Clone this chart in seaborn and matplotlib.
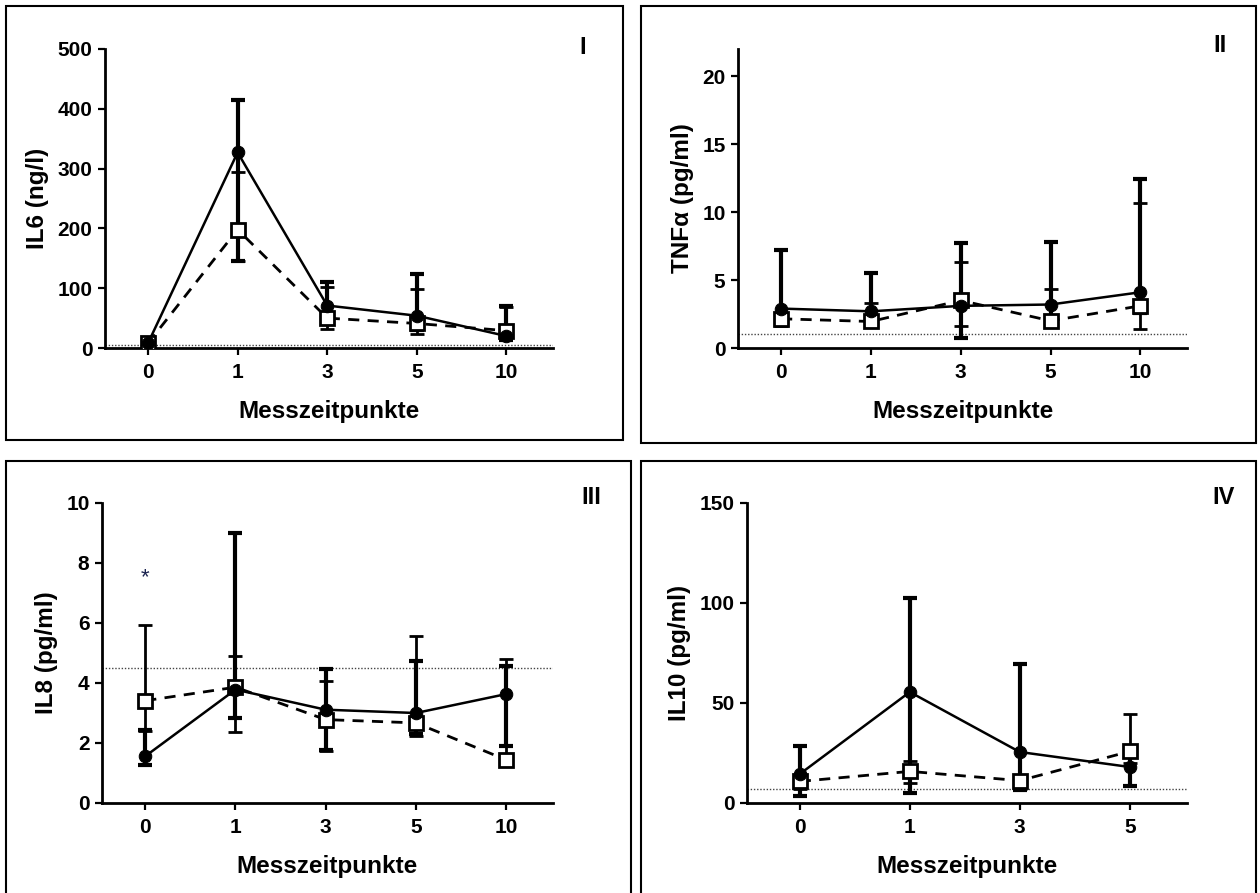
import numpy as np
import pandas as pd
import matplotlib
matplotlib.use("Agg")
import matplotlib.pyplot as plt
from matplotlib.patches import Rectangle
import seaborn as sns

sns.set_theme(style="white")
plt.rcParams['font.family'] = ['Liberation Sans', 'DejaVu Sans']
plt.rcParams['font.weight'] = 'bold'
plt.rcParams['text.color'] = 'black'
plt.rcParams['axes.labelcolor'] = 'black'
plt.rcParams['xtick.color'] = 'black'
plt.rcParams['ytick.color'] = 'black'
plt.rcParams['xtick.labelcolor'] = 'black'
plt.rcParams['ytick.labelcolor'] = 'black'

# ---------------- data ----------------
days5 = ["0", "1", "3", "5", "10"]
days4 = ["0", "1", "3", "5"]

# Panel I  IL6 (ng/l)
il6_solid = [8, 327, 71, 54, 20]
il6_solid_lo = [5, 146, 40, 30, 14]
il6_solid_hi = [12, 414, 110, 123, 71]
il6_dash = [8, 198, 50, 41, 29]
il6_dash_lo = [5, 146, 32, 24, 18]
il6_dash_hi = [10, 294, 102, 98, 68]
il6_lod = 5.5

# Panel II  TNFa (pg/ml)
tnf_solid = [2.9, 2.7, 3.1, 3.2, 4.1]
tnf_solid_lo = [1.7, 1.9, 0.7, 2.2, 2.6]
tnf_solid_hi = [7.2, 5.5, 7.7, 7.8, 12.4]
tnf_dash = [2.15, 1.95, 3.5, 2.0, 3.1]
tnf_dash_lo = [1.6, 1.6, 1.6, 1.7, 1.37]
tnf_dash_hi = [2.6, 3.3, 6.35, 4.35, 10.7]
tnf_lod = 1.0

# Panel III  IL8 (pg/ml)
il8_solid = [1.56, 3.78, 3.11, 3.0, 3.63]
il8_solid_lo = [1.26, 2.83, 1.78, 2.3, 1.89]
il8_solid_hi = [2.44, 9.0, 4.47, 4.74, 4.56]
il8_dash = [3.41, 3.86, 2.78, 2.67, 1.44]
il8_dash_lo = [2.4, 2.37, 1.75, 2.22, 1.44]
il8_dash_hi = [5.94, 4.91, 4.08, 5.56, 4.81]
il8_lod = 4.5
il8_star = 7.5

# Panel IV  IL10 (pg/ml)
il10_solid = [14.5, 55.5, 25.5, 18]
il10_solid_lo = [3.3, 5, 6.7, 8.3]
il10_solid_hi = [28.7, 102.5, 69.5, 25]
il10_dash = [10.8, 15.8, 11.2, 25.8]
il10_dash_lo = [7, 10, 7, 20]
il10_dash_hi = [13, 20.8, 13, 44.5]
il10_lod = 7.2

# ---------------- layout ----------------
W, H = 1260, 893
fig = plt.figure(figsize=(W / 100, H / 100), dpi=100)


def rect(l, r, t, b):
    return [l / W, 1 - b / H, (r - l) / W, (b - t) / H]


def frame(l, r, t, b):
    fig.add_artist(Rectangle((l / W, 1 - b / H), (r - l) / W, (b - t) / H,
                             transform=fig.transFigure, fill=False,
                             edgecolor='black', linewidth=1.5))


frame(6, 623, 6, 440)
frame(641, 1256, 6, 443)
frame(6, 631, 461, 897)
frame(641, 1256, 461, 897)

panels = [
    dict(rect=rect(105, 553, 49, 348), cats=days5, ylim=(0, 500), yt=[0, 100, 200, 300, 400, 500],
         s=il6_solid, slo=il6_solid_lo, shi=il6_solid_hi,
         d=il6_dash, dlo=il6_dash_lo, dhi=il6_dash_hi, lod=il6_lod,
         ylabel="IL6 (ng/l)", tag="I", tagxy=(583, 47)),
    dict(rect=rect(738, 1187, 49, 348), cats=days5, ylim=(0, 22), yt=[0, 5, 10, 15, 20],
         s=tnf_solid, slo=tnf_solid_lo, shi=tnf_solid_hi,
         d=tnf_dash, dlo=tnf_dash_lo, dhi=tnf_dash_hi, lod=tnf_lod,
         ylabel="TNFα (pg/ml)", tag="II", tagxy=(1220, 45)),
    dict(rect=rect(102, 553, 503, 803), cats=days5, ylim=(0, 10), yt=[0, 2, 4, 6, 8, 10],
         s=il8_solid, slo=il8_solid_lo, shi=il8_solid_hi,
         d=il8_dash, dlo=il8_dash_lo, dhi=il8_dash_hi, lod=il8_lod,
         ylabel="IL8 (pg/ml)", tag="III", tagxy=(591, 497)),
    dict(rect=rect(747, 1187, 503, 803), cats=days4, ylim=(0, 150), yt=[0, 50, 100, 150],
         s=il10_solid, slo=il10_solid_lo, shi=il10_solid_hi,
         d=il10_dash, dlo=il10_dash_lo, dhi=il10_dash_hi, lod=il10_lod,
         ylabel="IL10 (pg/ml)", tag="IV", tagxy=(1224, 497)),
]

for i, p in enumerate(panels):
    ax = fig.add_axes(p["rect"])
    n = len(p["cats"])
    pos = np.arange(n)
    s = np.array(p["s"], float)
    d = np.array(p["d"], float)

    # limit of detection
    ax.axhline(p["lod"], color='#444444', linestyle=(0, (1, 1.3)), linewidth=1.0, zorder=1)

    # error bars
    ax.errorbar(pos, d, yerr=[d - np.array(p["dlo"]), np.array(p["dhi"]) - d], fmt='none',
                ecolor='black', elinewidth=2.0, capsize=5, capthick=2.0, zorder=2)
    ax.errorbar(pos, s, yerr=[s - np.array(p["slo"]), np.array(p["shi"]) - s], fmt='none',
                ecolor='black', elinewidth=3.0, capsize=5, capthick=3.0, zorder=3)

    df = pd.DataFrame({"pos": np.concatenate([pos, pos]),
                       "val": np.concatenate([s, d]),
                       "grp": ["a"] * n + ["b"] * n})
    sns.lineplot(data=df[df.grp == "b"], x="pos", y="val", ax=ax, color='black',
                 linestyle=(0, (4, 3)), linewidth=2.0, marker='s', markersize=10,
                 markerfacecolor='white', markeredgecolor='black', markeredgewidth=2.0,
                 zorder=4, legend=False)
    sns.lineplot(data=df[df.grp == "a"], x="pos", y="val", ax=ax, color='black',
                 linestyle='-', linewidth=1.8, marker='o', markersize=9,
                 markerfacecolor='black', markeredgecolor='black', zorder=5, legend=False)

    ax.set_xlim(-0.48, n - 1 + 0.52)
    ax.set_ylim(*p["ylim"])
    ax.set_yticks(p["yt"])
    ax.set_xticks(pos)
    ax.set_xticklabels(p["cats"])
    for sp in ["top", "right"]:
        ax.spines[sp].set_visible(False)
    for sp in ["left", "bottom"]:
        ax.spines[sp].set_linewidth(2.0)
        ax.spines[sp].set_color('black')
    ax.tick_params(axis='both', which='major', direction='out', length=5, width=1.6,
                   color='black', labelcolor='black', labelsize=15, pad=4,
                   bottom=True, left=True)
    ax.tick_params(axis='x', pad=6)
    for lab in ax.get_xticklabels() + ax.get_yticklabels():
        lab.set_fontweight('bold')
        lab.set_color('black')
    ax.set_xlabel("Messzeitpunkte", fontsize=17.5, fontweight='bold', labelpad=13, color='black')
    ax.set_ylabel(p["ylabel"], fontsize=17.5, fontweight='bold', labelpad=6, color='black')
    ax.set_facecolor('white')

    fig.text(p["tagxy"][0] / W, 1 - p["tagxy"][1] / H, p["tag"], fontsize=17,
             fontweight='bold', ha='center', va='center', color='black')

    if i == 2:
        ax.text(0, il8_star, "*", fontsize=16, color='#1c2450', ha='center', va='center',
                fontweight='normal')

fig.savefig("out.png", dpi=100, facecolor='white')
